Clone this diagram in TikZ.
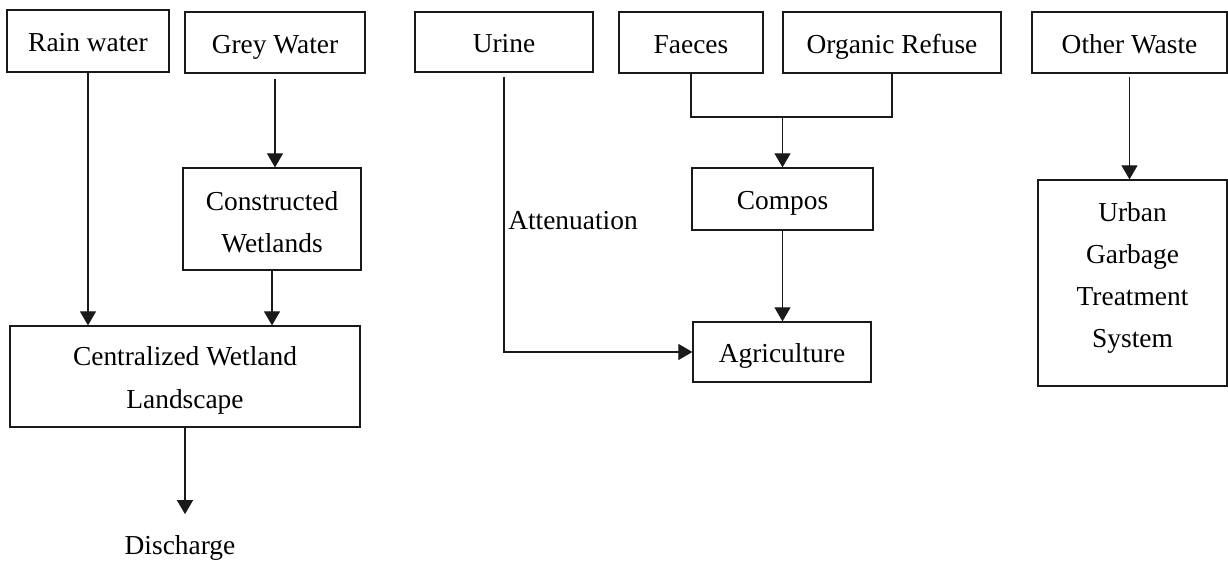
\documentclass[tikz,border=0pt]{standalone}
\usepackage{fontspec}
\setmainfont{Liberation Serif}
\usetikzlibrary{arrows.meta}
\definecolor{lineblack}{HTML}{1A1A1A}

\begin{document}
\begin{tikzpicture}[>={Triangle[length=0.28cm,width=0.32cm]},x=1cm,y=1cm,
    font=\fontsize{15.6}{24.4}\selectfont,
    flowbox/.style={draw=lineblack,line width=0.7pt,align=center,inner sep=0pt,
                    text height=12.4pt,text depth=0pt},
    flowline/.style={lineblack,line width=0.6pt}]

  \useasboundingbox (0,0) rectangle (24.56,11.3);

  % --- top row: sources ---
  \node[flowbox,minimum width=3.24cm,minimum height=1.24cm] (rain)    at (1.76,10.48) {Rain water};
  \node[flowbox,minimum width=3.60cm,minimum height=1.22cm] (grey)    at (5.50,10.45) {Grey Water};
  \node[flowbox,minimum width=3.56cm,minimum height=1.20cm] (urine)   at (10.08,10.46) {Urine};
  \node[flowbox,minimum width=2.88cm,minimum height=1.22cm] (faeces)  at (13.82,10.45) {Faeces};
  \node[flowbox,minimum width=4.36cm,minimum height=1.22cm] (organic) at (17.84,10.45) {Organic Refuse};
  \node[flowbox,minimum width=3.90cm,minimum height=1.22cm] (other)   at (22.59,10.45) {Other Waste};

  % --- treatment boxes ---
  \node[flowbox,text height=38.6pt,minimum width=3.56cm,minimum height=2.04cm] (constr)  at (5.44,6.92) {Constructed\\Wetlands};
  \node[flowbox,text height=36.8pt,minimum width=7.00cm,minimum height=2.02cm] (central) at (3.70,3.77) {Centralized Wetland\\Landscape};
  \node[flowbox,minimum width=3.62cm,minimum height=1.24cm] (compos)  at (15.65,7.32) {Compos};
  \node[flowbox,minimum width=3.56cm,minimum height=1.20cm] (agri)    at (15.64,4.26) {Agriculture};
  \node[flowbox,text height=73.7pt,minimum width=3.78cm,minimum height=4.12cm] (urban) at (22.65,5.64)
       {Urban\\[-0.5pt]Garbage\\[-0.5pt]Treatment\\[-0.5pt]System};

  % --- plain labels ---
  \node[inner sep=0pt] (disch) at (3.60,0.34) {Discharge};
  \node[inner sep=0pt] (atten) at (11.46,6.88) {Attenuation};

  \coordinate (join) at (15.65,8.96);

  % --- water branch ---
  \draw[flowline,->] (rain.south) -- (rain.south |- central.north);
  \draw[flowline,->,shorten <=0.1cm] (grey.south) -- (grey.south |- constr.north);
  \draw[flowline,->] (constr.south) -- (constr.south |- central.north);
  \draw[flowline,->,shorten >=0.42cm] (central.south) -- (central.south |- disch.north);

  % --- urine and solids ---
  \draw[flowline,->,shorten <=0.08cm] (urine.south) |- (agri.west);
  \draw[flowline] (faeces.south) |- (join) -| (organic.south);
  \draw[flowline,->] (join) -- (compos.north);
  \draw[flowline,->] (compos.south) -- (compos.south |- agri.north);

  % --- other waste ---
  \draw[flowline,->,shorten <=0.06cm] (other.south) -- (other.south |- urban.north);

\end{tikzpicture}
\end{document}
